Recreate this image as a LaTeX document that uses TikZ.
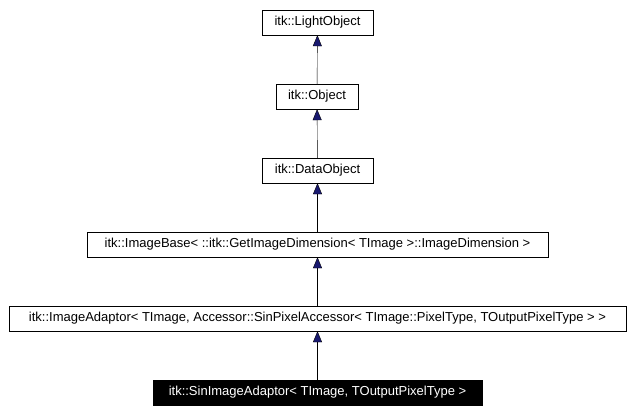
\documentclass[tikz,border=0pt]{standalone}
\usepackage{fontspec}
\setmainfont{Liberation Sans}
\usetikzlibrary{arrows.meta}
\definecolor{navy}{HTML}{191970}
\begin{document}
\begin{tikzpicture}[x=1pt,y=-1pt,
  box/.style={draw=black,fill=white,minimum height=25pt,inner sep=0pt,font=\fontsize{13}{15}\selectfont},
  inh/.style={draw=black,-{Triangle[length=11pt,width=9pt,fill=navy]}}]
\useasboundingbox (0,0) rectangle (634,415);
\node[box,minimum width=111pt] (a) at (317.5,22.5) {itk::LightObject};
\node[box,minimum width=82pt] (b) at (317,96.5) {itk::Object};
\node[box,minimum width=111pt] (c) at (317.5,170.5) {itk::DataObject};
\node[box,minimum width=461pt] (d) at (317.5,244.5) {itk::ImageBase< ::itk::GetImageDimension< TImage >::ImageDimension >};
\node[box,minimum width=617pt] (e) at (317.5,318.5) {itk::ImageAdaptor< TImage, Accessor::SinPixelAccessor< TImage::PixelType, TOutputPixelType > >};
\node[box,fill=black,text=white,minimum width=329pt] (f) at (317.5,392.5) {itk::SinImageAdaptor< TImage, TOutputPixelType >};
\draw[inh] (b) -- (a);
\draw[inh] (c) -- (b);
\draw[inh] (d) -- (c);
\draw[inh] (e) -- (d);
\draw[inh] (f) -- (e);
\end{tikzpicture}
\end{document}
